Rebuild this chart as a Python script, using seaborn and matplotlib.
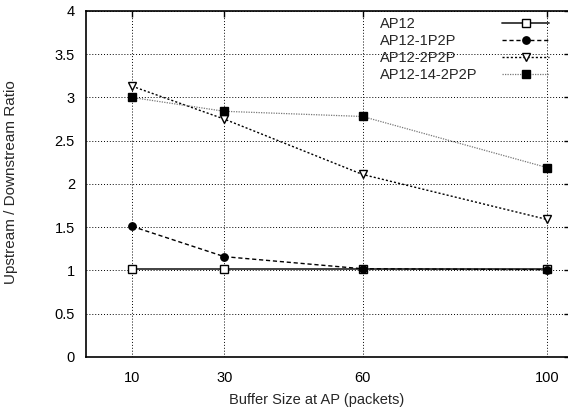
import pandas as pd
import seaborn as sns
import matplotlib.pyplot as plt

# buffer sizes at the AP (packets)
buffer_sizes = [10, 30, 60, 100]

# upstream / downstream ratio
ap12 = [1.02, 1.02, 1.02, 1.02]
ap12_1p2p = [1.51, 1.16, 1.02, 1.01]
ap12_2p2p = [3.13, 2.75, 2.11, 1.59]
ap12_14_2p2p = [3.00, 2.84, 2.78, 2.19]

series_names = ["AP12", "AP12-1P2P", "AP12-2P2P", "AP12-14-2P2P"]
series_values = [ap12, ap12_1p2p, ap12_2p2p, ap12_14_2p2p]

y_ticks = [0, 0.5, 1, 1.5, 2, 2.5, 3, 3.5, 4]
y_tick_labels = ["0", "0.5", "1", "1.5", "2", "2.5", "3", "3.5", "4"]

sns.set_style("white")
plt.rcParams['font.family'] = ['Liberation Sans', 'DejaVu Sans']

fig = plt.figure(figsize=(5.68, 4.11), dpi=100)
ax = fig.add_axes([0.1514, 0.1314, 0.852, 0.842])

#style for each series: line style, marker, fill, line colour, line width
styles = {
    "AP12": dict(linestyle="-", marker="s", mfc="white", color="#333333", lw=1.3, ms=5.5),
    "AP12-1P2P": dict(linestyle=(0, (3, 2)), marker="o", mfc="black", color="black", lw=1.0, ms=5.3),
    "AP12-2P2P": dict(linestyle=(0, (1.5, 1.5)), marker="v", mfc="white", color="black", lw=1.0, ms=6),
    "AP12-14-2P2P": dict(linestyle=(0, (1, 1)), marker="s", mfc="black", color="#777777", lw=0.9, ms=5.5),
}

for name, values in zip(series_names, series_values):
    df = pd.DataFrame({"Buffer": buffer_sizes, "Ratio": values})
    st = styles[name]
    sns.lineplot(data=df, x="Buffer", y="Ratio", ax=ax, label=name,
                 color=st["color"], linestyle=st["linestyle"], linewidth=st["lw"],
                 marker=st["marker"], markersize=st["ms"],
                 markerfacecolor=st["mfc"], markeredgecolor="black", markeredgewidth=1.0)

ax.set_xlim(0, 105)
ax.set_ylim(0, 4)
ax.set_xticks(buffer_sizes)
ax.set_xticklabels([str(b) for b in buffer_sizes])
ax.set_yticks(y_ticks)
ax.set_yticklabels(y_tick_labels)

ax.grid(True, color="black", linestyle=(0, (1, 2)), linewidth=0.7)
ax.tick_params(direction="in", length=4, width=1, top=True, right=True,
               labelsize=10.5, colors="black")
ax.tick_params(axis="x", pad=10)
ax.tick_params(axis="y", pad=8)
for sp in ax.spines.values():
    sp.set_color("black")
    sp.set_linewidth(1.2)

ax.set_xlabel("Buffer Size at AP (packets)", fontsize=10.5)
ax.set_ylabel("Upstream / Downstream Ratio", fontsize=11)
ax.xaxis.set_label_coords(0.477, -0.105)
ax.yaxis.set_label_coords(-0.14, 0.506)

fs = 10.5
pad = 1.7
leg = ax.legend(loc="upper right", bbox_to_anchor=(0.957, 0.983), frameon=False,
                markerfirst=False, handlelength=3.2, handletextpad=pad,
                labelspacing=0.22, borderpad=0, borderaxespad=0, fontsize=fs)

# legend labels are left aligned in the reference, so widen the gap for short labels
fig.canvas.draw()
renderer = fig.canvas.get_renderer()
widths = [t.get_window_extent(renderer).width for t in leg.get_texts()]
wmax = max(widths)
rows = leg._legend_handle_box.get_children()[0].get_children()
for row, w in zip(rows, widths):
    row.sep = pad * fs + (wmax - w) * 72 / fig.dpi

fig.savefig("out.png", dpi=100)
